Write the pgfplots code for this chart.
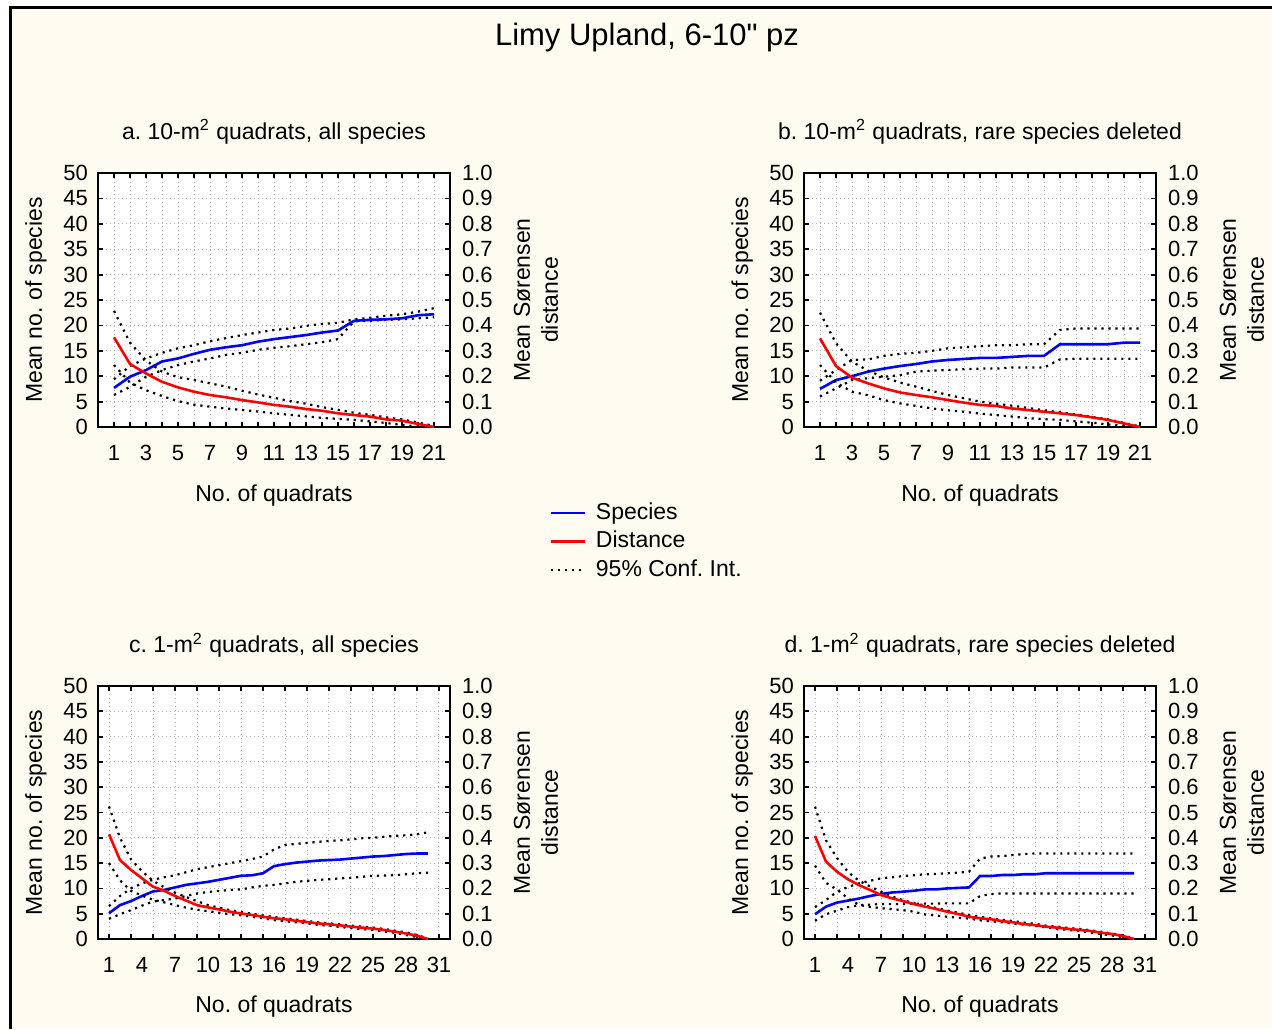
\documentclass[border=0pt]{standalone}
\usepackage{fontspec}
\setmainfont{Liberation Sans}
\newfontfamily\plainfont{Liberation Sans}
\usepackage{pgfplots}
\usepackage{pgfplotstable}
\pgfplotsset{compat=1.18}

\definecolor{bgcream}{RGB}{254,251,240}

% x = no. of quadrats, s = species (mean, lo, hi), d = distance (mean, lo, hi)
\pgfplotstableread{
x  s     slo   shi   d     dlo   dhi
1  7.7   6.3   9.4   0.353 0.244 0.457
2  9.9   7.9   12.0  0.248 0.175 0.332
3  11.2  9.9   13.5  0.211 0.145 0.262
4  12.9  11.2  14.6  0.178 0.122 0.218
5  13.5  12.2  15.5  0.156 0.102 0.196
6  14.4  12.9  16.1  0.139 0.088 0.185
7  15.2  13.5  16.9  0.126 0.080 0.172
8  15.7  14.2  17.5  0.117 0.073 0.159
9  16.1  14.6  18.1  0.106 0.067 0.143
10 16.8  15.2  18.6  0.097 0.061 0.128
11 17.3  15.6  19.1  0.087 0.054 0.115
12 17.7  15.9  19.4  0.080 0.048 0.102
13 18.1  16.3  19.9  0.071 0.042 0.092
14 18.6  16.7  20.3  0.064 0.036 0.078
15 19.0  17.3  20.5  0.054 0.032 0.068
16 20.9  20.8  21.2  0.047 0.028 0.056
17 21.1  20.9  21.5  0.041 0.022 0.048
18 21.2  21.1  21.9  0.030 0.016 0.038
19 21.4  21.2  22.2  0.025 0.008 0.030
20 22.0  21.4  22.7  0.012 0.002 0.018
21 22.2  21.6  23.4  0.000 0.000 0.004
}\tabA

\pgfplotstableread{
x  s     slo   shi   d     dlo   dhi
1  7.5   6.0   9.1   0.349 0.244 0.450
2  9.25  7.6   11.2  0.240 0.175 0.330
3  10.0  9.25  13.2  0.194 0.139 0.257
4  10.9  9.6   13.3  0.172 0.125 0.222
5  11.5  9.9   14.0  0.152 0.106 0.195
6  12.0  10.2  14.4  0.136 0.093 0.175
7  12.4  10.9  14.6  0.126 0.083 0.159
8  12.9  11.1  15.0  0.117 0.073 0.142
9  13.2  11.2  15.5  0.106 0.066 0.126
10 13.4  11.4  15.7  0.096 0.060 0.113
11 13.6  11.5  15.9  0.087 0.053 0.100
12 13.6  11.5  16.1  0.083 0.047 0.092
13 13.8  11.7  16.1  0.073 0.041 0.084
14 14.0  11.7  16.3  0.067 0.035 0.075
15 14.0  11.7  16.3  0.060 0.031 0.066
16 16.3  13.3  19.1  0.054 0.028 0.058
17 16.3  13.45 19.4  0.047 0.022 0.050
18 16.3  13.45 19.4  0.038 0.017 0.040
19 16.3  13.45 19.4  0.028 0.010 0.030
20 16.6  13.45 19.4  0.014 0.004 0.016
21 16.6  13.45 19.4  0.000 0.000 0.002
}\tabB

\pgfplotstableread{
x  s     slo   shi   d     dlo   dhi
1  5.1   4.0   6.5   0.414 0.300 0.524
2  6.7   4.9   8.5   0.312 0.232 0.400
3  7.5   5.7   10.0  0.273 0.190 0.315
4  8.5   6.6   11.0  0.240 0.172 0.268
5  9.4   7.4   11.7  0.207 0.155 0.230
6  9.7   7.7   12.2  0.191 0.145 0.205
7  10.2  8.0   12.6  0.170 0.134 0.183
8  10.7  8.5   13.2  0.152 0.124 0.166
9  11.0  9.0   13.8  0.134 0.116 0.150
10 11.3  9.3   14.2  0.125 0.110 0.134
11 11.7  9.5   14.6  0.117 0.104 0.124
12 12.1  9.7   15.0  0.108 0.098 0.114
13 12.5  9.8   15.4  0.101 0.094 0.107
14 12.6  10.2  15.8  0.095 0.088 0.100
15 13.0  10.5  16.3  0.088 0.082 0.093
16 14.4  10.7  17.7  0.082 0.075 0.087
17 14.8  11.0  18.6  0.078 0.070 0.082
18 15.1  11.3  18.8  0.072 0.066 0.077
19 15.3  11.5  19.0  0.067 0.062 0.071
20 15.5  11.7  19.2  0.062 0.056 0.066
21 15.6  11.8  19.4  0.058 0.052 0.062
22 15.7  12.0  19.5  0.054 0.048 0.058
23 15.9  12.1  19.7  0.049 0.043 0.053
24 16.1  12.3  19.9  0.045 0.039 0.049
25 16.3  12.5  20.0  0.041 0.036 0.045
26 16.4  12.55 20.2  0.036 0.030 0.040
27 16.6  12.6  20.4  0.029 0.024 0.033
28 16.8  12.8  20.5  0.022 0.016 0.026
29 16.9  13.0  20.7  0.013 0.008 0.016
30 16.9  13.1  21.1  0.000 0.000 0.002
}\tabC

\pgfplotstableread{
x  s     slo   shi   d     dlo   dhi
1  4.9   3.6   6.3   0.407 0.290 0.523
2  6.4   4.9   7.7   0.306 0.222 0.390
3  7.2   5.6   9.35  0.266 0.196 0.320
4  7.6   6.3   10.3  0.236 0.160 0.265
5  8.0   6.7   11.0  0.213 0.135 0.230
6  8.5   6.8   11.5  0.194 0.127 0.208
7  8.9   6.9   12.0  0.174 0.122 0.187
8  9.2   6.9   12.2  0.161 0.118 0.168
9  9.35  6.9   12.45 0.150 0.114 0.154
10 9.55  7.0   12.6  0.138 0.108 0.142
11 9.8   7.0   12.8  0.128 0.097 0.132
12 9.8   7.0   12.85 0.119 0.093 0.123
13 10.0  7.05  13.0  0.108 0.088 0.113
14 10.1  7.05  13.1  0.099 0.084 0.104
15 10.2  7.05  13.3  0.088 0.081 0.095
16 12.45 8.5   15.9  0.082 0.074 0.088
17 12.45 8.9   16.3  0.078 0.070 0.082
18 12.65 9.0   16.4  0.071 0.066 0.076
19 12.65 9.0   16.6  0.066 0.061 0.071
20 12.8  9.0   16.8  0.059 0.057 0.065
21 12.8  9.0   16.9  0.055 0.052 0.060
22 13.0  9.0   16.9  0.049 0.046 0.053
23 13.0  9.0   16.9  0.045 0.040 0.049
24 13.0  9.0   16.9  0.040 0.036 0.044
25 13.0  9.0   16.9  0.036 0.032 0.040
26 13.0  9.0   16.9  0.032 0.026 0.035
27 13.0  9.0   16.9  0.025 0.020 0.028
28 13.0  9.0   16.9  0.020 0.014 0.022
29 13.0  9.0   16.9  0.012 0.007 0.014
30 13.0  9.0   16.9  0.000 0.000 0.002
}\tabD

\pgfplotsset{
  /pgf/number format/assume math mode=true,
  spec/.style={blue, line width=1.3pt},
  dis/.style={red, line width=1.3pt},
  ci/.style={black, line width=1.1pt, dash pattern=on 1.1pt off 2.4pt},
  common/.style={
    scale only axis, width=176pt,
    xmin=0,
    tick label style={font=\fontsize{11}{13}\selectfont, black},
    label style={font=\fontsize{11.5}{14}\selectfont},
  },
  panel/.style={
    common,
    ymin=0, ymax=50,
    axis line style={line width=1.3pt},
    axis background/.style={fill=white},
    tick align=inside,
    tick style={black, line width=0.9pt},
    major tick length=2.5pt, minor tick length=2.5pt,
    every major x tick/.append style={draw=none},
    ytick={0,5,...,50}, yticklabel pos=left,
    ymajorgrids, xminorgrids,
    major grid style={gray!60, line width=0.5pt, dash pattern=on 0.5pt off 1.5pt},
    minor grid style={gray!60, line width=0.5pt, dash pattern=on 0.5pt off 1.5pt},
    xticklabel style={anchor=center, yshift=-13pt},
    yticklabel style={xshift=-1.5pt},
    xlabel={No. of quadrats},
    ylabel={Mean no. of species},
    xlabel style={at={(axis description cs:0.5,-0.268)}, anchor=center},
    ylabel style={at={(axis description cs:-0.176,0.5)}, anchor=center},
    title style={at={(axis description cs:0.5,1.114)}, anchor=center,
      font=\fontsize{11.5}{14}\selectfont},
  },
  dist/.style={
    common,
    ymin=0, ymax=1,
    hide x axis, axis y line*=right,
    axis line style={line width=1.3pt},
    major tick length=0pt,
    ytick={0,0.1,0.2,0.3,0.4,0.5,0.6,0.7,0.8,0.9,1.0},
    yticklabel style={xshift=2.5pt, /pgf/number format/.cd, fixed, fixed zerofill, precision=1},
    ylabel={Mean Sørensen\\distance},
    ylabel style={align=center, at={(axis description cs:1.244,0.5)}, anchor=center},
  },
}

\begin{document}
\frenchspacing
\begin{tikzpicture}
\fill[white] (0,0) rectangle (636pt,-514.5pt);
\fill[bgcream] (5pt,-3.5pt) rectangle (636pt,-514.5pt);
\draw[line width=1.5pt] (5pt,-514.5pt) -- (5pt,-3.5pt) -- (636pt,-3.5pt);
\node[font=\plainfont\fontsize{15.5}{18}\selectfont] at (323.5pt,-18.5pt) {Limy Upland, 6-10" pz};

% a
\begin{axis}[panel, at={(49pt,-213.5pt)}, anchor=south west, height=127pt,
  xmax=22, xtick={1,3,...,21}, minor xtick={1,2,...,21},
  title={a. 10-m\textsuperscript{2} quadrats, all species},
  legend style={at={(axis description cs:1.264,-0.26)}, anchor=north west,
    draw=none, fill=none, font=\fontsize{11.5}{14}\selectfont,
    row sep=-1.25pt, nodes={text height=9pt, text depth=2.5pt}},
  legend cell align=left,
  legend image code/.code={\draw[#1] (0pt,0pt) -- (17pt,0pt); \path (20pt,0pt);}]
\addplot[ci, forget plot] table[x=x, y=slo] {\tabA};
\addplot[ci, forget plot] table[x=x, y=shi] {\tabA};
\addplot[spec, forget plot] table[x=x, y=s] {\tabA};
\addlegendimage{spec}
\addlegendentry{Species}
\addlegendimage{dis}
\addlegendentry{Distance}
\addlegendimage{ci}
\addlegendentry{95\% Conf. Int.}
\end{axis}
\begin{axis}[dist, at={(49pt,-213.5pt)}, anchor=south west, height=127pt, xmax=22]
\addplot[ci] table[x=x, y=dlo] {\tabA};
\addplot[ci] table[x=x, y=dhi] {\tabA};
\addplot[dis] table[x=x, y=d] {\tabA};
\end{axis}

% b
\begin{axis}[panel, at={(402pt,-213.5pt)}, anchor=south west, height=127pt,
  xmax=22, xtick={1,3,...,21}, minor xtick={1,2,...,21},
  title={b. 10-m\textsuperscript{2} quadrats, rare species deleted}]
\addplot[ci] table[x=x, y=slo] {\tabB};
\addplot[ci] table[x=x, y=shi] {\tabB};
\addplot[spec] table[x=x, y=s] {\tabB};
\end{axis}
\begin{axis}[dist, at={(402pt,-213.5pt)}, anchor=south west, height=127pt, xmax=22]
\addplot[ci] table[x=x, y=dlo] {\tabB};
\addplot[ci] table[x=x, y=dhi] {\tabB};
\addplot[dis] table[x=x, y=d] {\tabB};
\end{axis}

% c
\begin{axis}[panel, at={(49pt,-469.5pt)}, anchor=south west, height=126.5pt,
  xmax=32, xtick={1,4,...,31}, minor xtick={1,3,...,31},
  title={c. 1-m\textsuperscript{2} quadrats, all species}]
\addplot[ci] table[x=x, y=slo] {\tabC};
\addplot[ci] table[x=x, y=shi] {\tabC};
\addplot[spec] table[x=x, y=s] {\tabC};
\end{axis}
\begin{axis}[dist, at={(49pt,-469.5pt)}, anchor=south west, height=126.5pt, xmax=32]
\addplot[ci] table[x=x, y=dlo] {\tabC};
\addplot[ci] table[x=x, y=dhi] {\tabC};
\addplot[dis] table[x=x, y=d] {\tabC};
\end{axis}

% d
\begin{axis}[panel, at={(402pt,-469.5pt)}, anchor=south west, height=126.5pt,
  xmax=32, xtick={1,4,...,31}, minor xtick={1,3,...,31},
  title={d. 1-m\textsuperscript{2} quadrats, rare species deleted}]
\addplot[ci] table[x=x, y=slo] {\tabD};
\addplot[ci] table[x=x, y=shi] {\tabD};
\addplot[spec] table[x=x, y=s] {\tabD};
\end{axis}
\begin{axis}[dist, at={(402pt,-469.5pt)}, anchor=south west, height=126.5pt, xmax=32]
\addplot[ci] table[x=x, y=dlo] {\tabD};
\addplot[ci] table[x=x, y=dhi] {\tabD};
\addplot[dis] table[x=x, y=d] {\tabD};
\end{axis}

\pgfresetboundingbox
\path[use as bounding box] (0,0) rectangle (636pt,-514.5pt);
\end{tikzpicture}
\end{document}
